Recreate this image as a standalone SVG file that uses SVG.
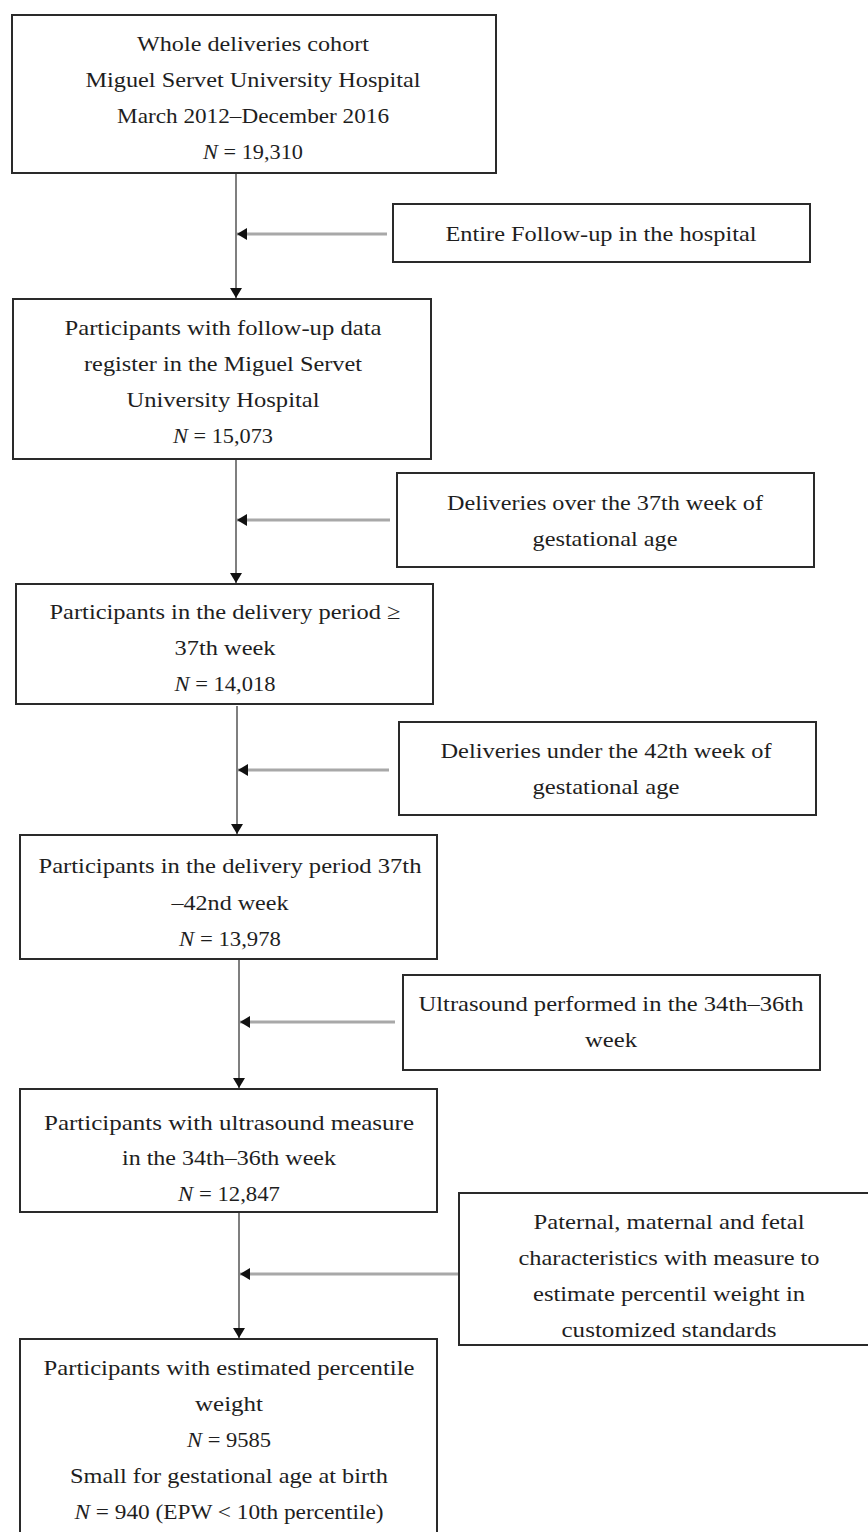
<svg xmlns="http://www.w3.org/2000/svg" width="868" height="1532" viewBox="0 0 868 1532">
<style>
.box{fill:#fff;stroke:#2a2a2a;stroke-width:2}
text{font-family:"Liberation Serif","DejaVu Serif",serif;font-size:22px;fill:#1e1e1e;text-anchor:middle}
.i{font-style:italic}
.v{stroke:#555;stroke-width:1.5;fill:none}
.h{stroke:#a8a8a8;stroke-width:3;fill:none}
</style>
<defs>
<marker id="ah" markerWidth="12" markerHeight="12" refX="10" refY="6" orient="auto" markerUnits="userSpaceOnUse">
<path d="M0,0 L10,6 L0,12 Z" fill="#111"/>
</marker>
</defs>
<rect width="868" height="1532" fill="#fff"/>
<g id="connectors">
<line class="v" x1="236" y1="173" x2="236" y2="298" marker-end="url(#ah)"/>
<line class="h" x1="387" y1="234" x2="237" y2="234" marker-end="url(#ah)"/>
<line class="v" x1="236" y1="459" x2="236" y2="583" marker-end="url(#ah)"/>
<line class="h" x1="390" y1="520" x2="237" y2="520" marker-end="url(#ah)"/>
<line class="v" x1="237" y1="706" x2="237" y2="834" marker-end="url(#ah)"/>
<line class="h" x1="389" y1="770" x2="238" y2="770" marker-end="url(#ah)"/>
<line class="v" x1="239" y1="959" x2="239" y2="1088" marker-end="url(#ah)"/>
<line class="h" x1="395" y1="1022" x2="240" y2="1022" marker-end="url(#ah)"/>
<line class="v" x1="239" y1="1212" x2="239" y2="1338" marker-end="url(#ah)"/>
<line class="h" x1="458" y1="1274" x2="240" y2="1274" marker-end="url(#ah)"/>
</g>
<g id="box1">
<rect class="box" x="12" y="15" width="484" height="158"/>
<text x="253" y="51" textLength="232" lengthAdjust="spacingAndGlyphs">Whole deliveries cohort</text>
<text x="253" y="87" textLength="335" lengthAdjust="spacingAndGlyphs">Miguel Servet University Hospital</text>
<text x="253" y="123" textLength="272" lengthAdjust="spacingAndGlyphs">March 2012–December 2016</text>
<text x="253" y="159" textLength="100" lengthAdjust="spacingAndGlyphs"><tspan class="i">N</tspan> = 19,310</text>
</g>
<g id="side1">
<rect class="box" x="393" y="204" width="417" height="58"/>
<text x="601" y="241" textLength="311" lengthAdjust="spacingAndGlyphs">Entire Follow-up in the hospital</text>
</g>
<g id="box2">
<rect class="box" x="13" y="299" width="418" height="160"/>
<text x="223" y="335" textLength="317" lengthAdjust="spacingAndGlyphs">Participants with follow-up data</text>
<text x="223" y="371" textLength="278" lengthAdjust="spacingAndGlyphs">register in the Miguel Servet</text>
<text x="223" y="407" textLength="193" lengthAdjust="spacingAndGlyphs">University Hospital</text>
<text x="223" y="443" textLength="100" lengthAdjust="spacingAndGlyphs"><tspan class="i">N</tspan> = 15,073</text>
</g>
<g id="side2">
<rect class="box" x="397" y="473" width="417" height="94"/>
<text x="605" y="510" textLength="316" lengthAdjust="spacingAndGlyphs">Deliveries over the 37th week of</text>
<text x="605" y="546" textLength="145" lengthAdjust="spacingAndGlyphs">gestational age</text>
</g>
<g id="box3">
<rect class="box" x="16" y="584" width="417" height="120"/>
<text x="225" y="619" textLength="351" lengthAdjust="spacingAndGlyphs">Participants in the delivery period ≥</text>
<text x="225" y="655" textLength="101" lengthAdjust="spacingAndGlyphs">37th week</text>
<text x="225" y="691" textLength="101" lengthAdjust="spacingAndGlyphs"><tspan class="i">N</tspan> = 14,018</text>
</g>
<g id="side3">
<rect class="box" x="399" y="722" width="417" height="93"/>
<text x="606" y="758" textLength="331" lengthAdjust="spacingAndGlyphs">Deliveries under the 42th week of</text>
<text x="606" y="794" textLength="147" lengthAdjust="spacingAndGlyphs">gestational age</text>
</g>
<g id="box4">
<rect class="box" x="20" y="835" width="417" height="124"/>
<text x="230" y="873" textLength="383" lengthAdjust="spacingAndGlyphs">Participants in the delivery period 37th</text>
<text x="230" y="910" textLength="117" lengthAdjust="spacingAndGlyphs">–42nd week</text>
<text x="230" y="946" textLength="102" lengthAdjust="spacingAndGlyphs"><tspan class="i">N</tspan> = 13,978</text>
</g>
<g id="side4">
<rect class="box" x="403" y="975" width="417" height="95"/>
<text x="611" y="1011" textLength="385" lengthAdjust="spacingAndGlyphs">Ultrasound performed in the 34th–36th</text>
<text x="611" y="1047" textLength="52" lengthAdjust="spacingAndGlyphs">week</text>
</g>
<g id="box5">
<rect class="box" x="20" y="1089" width="417" height="123"/>
<text x="229" y="1130" textLength="370" lengthAdjust="spacingAndGlyphs">Participants with ultrasound measure</text>
<text x="229" y="1165" textLength="214" lengthAdjust="spacingAndGlyphs">in the 34th–36th week</text>
<text x="229" y="1201" textLength="102" lengthAdjust="spacingAndGlyphs"><tspan class="i">N</tspan> = 12,847</text>
</g>
<g id="side5">
<rect class="box" x="459" y="1193" width="421" height="152"/>
<text x="669" y="1229" textLength="271" lengthAdjust="spacingAndGlyphs">Paternal, maternal and fetal</text>
<text x="669" y="1265" textLength="301" lengthAdjust="spacingAndGlyphs">characteristics with measure to</text>
<text x="669" y="1301" textLength="272" lengthAdjust="spacingAndGlyphs">estimate percentil weight in</text>
<text x="669" y="1337" textLength="215" lengthAdjust="spacingAndGlyphs">customized standards</text>
</g>
<g id="box6">
<rect class="box" x="20" y="1339" width="417" height="210"/>
<text x="229" y="1375" textLength="371" lengthAdjust="spacingAndGlyphs">Participants with estimated percentile</text>
<text x="229" y="1411" textLength="68" lengthAdjust="spacingAndGlyphs">weight</text>
<text x="229" y="1447" textLength="84" lengthAdjust="spacingAndGlyphs"><tspan class="i">N</tspan> = 9585</text>
<text x="229" y="1483" textLength="318" lengthAdjust="spacingAndGlyphs">Small for gestational age at birth</text>
<text x="229" y="1519" textLength="309" lengthAdjust="spacingAndGlyphs"><tspan class="i">N</tspan> = 940 (EPW &lt; 10th percentile)</text>
</g>
</svg>
